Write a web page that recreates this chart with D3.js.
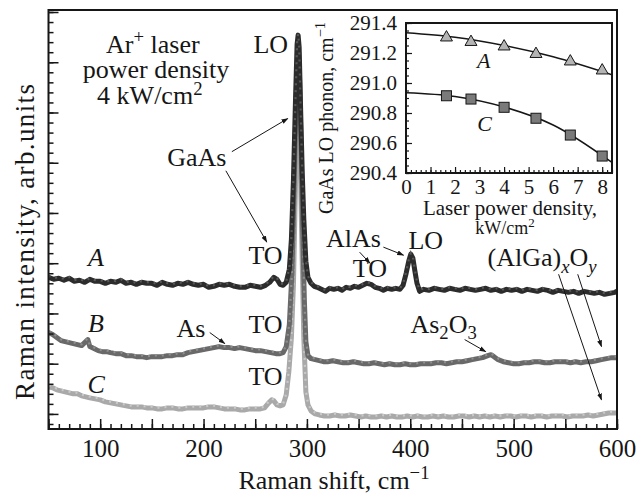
<!DOCTYPE html>
<html>
<head>
<meta charset="utf-8">
<script src="https://cdn.jsdelivr.net/npm/d3@7"></script>
</head>
<body style="margin:0;background:#fff">
<div id="chart"></div>
<script>
// Raman spectra, [shift cm-1, intensity arb.units]
const spectrumA = [[50,136],[55,134],[60,135],[65,133],[70,135],[75,132],[80,133],[85,131],[90,134],[95,132],[100,132],[105,130],[110,132],[115,131],[120,133],[125,130],[130,131],[135,129],[140,131],[145,130],[150,130],[155,128],[160,131],[165,129],[170,128],[175,130],[180,129],[185,131],[190,129],[195,128],[200,129],[205,126],[210,127],[215,129],[220,128],[225,129],[230,127],[235,126],[240,126],[245,128],[250,127],[255,126],[260,128],[264,131],[268,136],[271,134],[274,129],[277,128],[280,131],[283,144],[285,174],[287,234],[289,314],[290.5,368],[291.5,377],[292.5,365],[294,300],[295.5,240],[297,194],[299,152],[301,136],[304,130],[307,127],[310,126],[314,124],[318,122],[322,125],[326,124],[330,125],[334,123],[338,126],[342,125],[346,127],[350,126],[354,128],[358,130],[362,129],[366,126],[370,125],[374,123],[378,125],[382,124],[386,125],[390,124],[393,128],[396,140],[398.5,152],[400.5,159],[402.5,155],[404.5,142],[406.5,130],[409,122],[413,124],[418,123],[423,125],[428,124],[433,123],[438,125],[443,124],[448,123],[453,125],[458,124],[463,123],[468,124],[473,125],[478,123],[483,124],[488,122],[493,124],[498,123],[503,124],[508,122],[513,124],[518,123],[523,122],[528,124],[533,123],[538,121],[543,123],[548,122],[553,121],[558,122],[563,120],[568,122],[573,121],[578,120],[583,121],[588,119],[593,120],[598,121],[600,122]];
const spectrumB = [[50,81],[54,79],[58,76],[62,73],[66,72],[70,71],[74,70],[78,69],[82,68],[86,72],[88,74],[90,67],[94,65],[98,63],[102,62],[106,62],[110,61],[115,60],[120,60],[125,58],[130,58],[135,57],[140,57],[145,56],[150,57],[155,57],[160,57],[165,58],[170,58],[175,59],[180,59],[185,61],[190,62],[195,63],[200,64],[205,65],[210,66],[215,67],[220,66],[225,66],[230,65],[235,66],[240,65],[245,64],[250,63],[255,63],[260,62],[265,61],[270,60],[274,60],[277,61],[280,67],[283,89],[285.5,140],[287.5,220],[289.5,310],[291,356],[292,360],[293,330],[294.5,260],[296,180],[297.5,114],[299,72],[301,58],[304,55],[308,54],[312,53],[316,52],[320,52],[325,53],[330,52],[335,51],[340,51],[345,52],[350,51],[355,50],[360,50],[365,51],[370,50],[375,49],[380,50],[385,49],[390,49],[395,50],[400,49],[405,49],[410,50],[415,50],[420,50],[425,51],[430,51],[435,50],[440,51],[445,52],[450,52],[455,53],[460,54],[465,55],[470,56],[475,58],[478,59],[481,57],[485,54],[490,52],[495,51],[500,50],[505,50],[510,51],[515,51],[520,52],[525,52],[530,51],[535,51],[540,52],[545,52],[550,52],[555,51],[560,52],[565,51],[570,52],[575,52],[580,53],[585,54],[590,55],[595,56],[600,56]];
const spectrumC = [[50,27],[54,26],[58,24],[62,23],[66,22],[70,21],[74,20],[78,20],[82,18],[86,17],[90,16],[95,15],[100,14],[105,12],[110,11],[115,10],[120,9],[125,8],[130,7],[135,7],[140,7],[145,6],[150,6],[155,5],[160,5],[165,6],[170,6],[175,5],[180,5],[185,6],[190,6],[195,6],[200,6],[205,7],[210,7],[215,6],[220,5],[225,5],[230,5],[235,4],[240,4],[245,5],[250,5],[255,5],[259,6],[263,11],[266,14],[268,13],[271,9],[274,8],[277,9],[280,19],[282.5,42],[285,76],[287,130],[289,230],[290.5,320],[291.5,352],[292.5,330],[294,230],[295.5,150],[297,76],[299,22],[301,9],[304,3],[308,0],[312,-1],[317,-2],[322,-2],[327,-1],[332,-2],[337,-2],[342,-1],[347,-2],[352,-3],[357,-2],[362,-3],[367,-3],[372,-2],[377,-3],[382,-2],[387,-3],[392,-3],[397,-2],[402,-3],[407,-2],[412,-3],[417,-3],[422,-2],[427,-3],[432,-2],[437,-3],[442,-3],[447,-2],[452,-2],[457,-3],[462,-2],[467,-3],[472,-2],[477,-3],[482,-2],[487,-3],[492,-2],[497,-2],[502,-3],[507,-2],[512,-2],[517,-3],[522,-2],[527,-2],[532,-3],[537,-2],[542,-2],[547,-2],[552,-3],[557,-2],[562,-2],[567,-2],[572,-1],[577,-2],[582,-1],[587,0],[592,1],[597,1],[600,1]];

// inset: GaAs LO phonon position vs laser power density
const powerA = [1.65, 2.65, 4.0, 5.3, 6.7, 8.0];
const phononA = [291.31, 291.28, 291.25, 291.20, 291.15, 291.09];
const powerC = [1.65, 2.65, 4.0, 5.3, 6.7, 8.0];
const phononC = [290.915, 290.893, 290.838, 290.765, 290.653, 290.513];
const fitPower = [0, 2, 4, 6, 8.4];
const fitA = [291.335, 291.305, 291.25, 291.175, 291.055];
const fitC = [290.935, 290.91, 290.84, 290.72, 290.47];

const xTicksMain = [100, 200, 300, 400, 500, 600];
const xTicksInset = [0, 1, 2, 3, 4, 5, 6, 7, 8];
const yTicksInset = [290.4, 290.6, 290.8, 291.0, 291.2, 291.4];

const FONT = '"Liberation Serif", "Times New Roman", serif';
const INK = "#161616";
const W = 641, H = 497;
const svg = d3.select("#chart").append("svg").attr("width", W).attr("height", H)
  .style("font-family", FONT);

// helper for text with sup/sub parts
function rich(sel, parts, size) {
  let shift = 0;
  parts.forEach(p => {
    const target = p.sup ? -size * 0.38 : p.sub ? size * 0.25 : 0;
    const ts = sel.append("tspan").text(p.t).attr("dy", target - shift);
    shift = target;
    if (p.sup || p.sub) ts.attr("font-size", size * 0.72);
    if (p.it) ts.attr("font-style", "italic");
  });
  return sel;
}

// ---------- main plot ----------
const x = d3.scaleLinear().domain([50, 600]).range([48.5, 617]);
const y = d3.scaleLinear().domain([-15, 402]).range([429, 10]);

const defs = svg.append("defs");
defs.append("marker").attr("id", "arr").attr("viewBox", "0 0 10 10")
  .attr("refX", 9).attr("refY", 5).attr("markerWidth", 7).attr("markerHeight", 7)
  .attr("orient", "auto").attr("markerUnits", "userSpaceOnUse")
  .append("path").attr("d", "M0,1.5L10,5L0,8.5z").attr("fill", INK);
defs.append("clipPath").attr("id", "clipMain").append("rect")
  .attr("x", 48.5).attr("y", 10).attr("width", 568.5).attr("height", 419);

const line = d3.line().x(d => x(d[0])).y(d => y(d[1]));
const series = [
  { data: spectrumC, col: "#a9a9a9", tex: "#c9c9c9" },
  { data: spectrumB, col: "#696969", tex: "#8f8f8f" },
  { data: spectrumA, col: "#2c2c2c", tex: "#575757" }
];
const gLines = svg.append("g").attr("clip-path", "url(#clipMain)");
series.forEach(s => {
  gLines.append("path").datum(s.data).attr("d", line)
    .attr("fill", "none").attr("stroke", s.col).attr("stroke-width", 5)
    .attr("stroke-linejoin", "round");
  gLines.append("path").datum(s.data).attr("d", line)
    .attr("fill", "none").attr("stroke", s.tex).attr("stroke-width", 2.2)
    .attr("stroke-dasharray", "2 5").attr("transform", "translate(0,-1.2)");
});

// axes (ticks point inward)
const gx = svg.append("g").attr("transform", "translate(0,429)");
gx.call(d3.axisBottom(x).tickValues(d3.range(50, 601, 10)).tickSize(-5).tickFormat(""));
gx.append("g").call(d3.axisBottom(x).tickValues(d3.range(50, 601, 50)).tickSize(-10).tickPadding(10)
  .tickFormat(d => xTicksMain.includes(d) ? d : ""));
gx.selectAll("text").attr("font-size", 25);
const gy = svg.append("g").attr("transform", "translate(48.5,0)");
gy.call(d3.axisLeft(y).tickValues(d3.range(-10, 401, 10)).tickSize(-5).tickFormat(""));
gy.append("g").call(d3.axisLeft(y).tickValues(d3.range(0, 401, 50)).tickSize(-10).tickFormat(""));
svg.selectAll(".domain").remove();
svg.selectAll(".tick line").attr("stroke", INK).attr("stroke-width", 1.5);
svg.append("rect").attr("x", 48.5).attr("y", 10).attr("width", 568.5).attr("height", 419)
  .attr("fill", "none").attr("stroke", INK).attr("stroke-width", 2);

// axis titles
rich(svg.append("text").attr("x", 334).attr("y", 489).attr("text-anchor", "middle").attr("font-size", 26),
  [{ t: "Raman shift, cm" }, { t: "\u22121", sup: true }], 26);
svg.append("text").attr("transform", "translate(34,242) rotate(-90)").attr("text-anchor", "middle")
  .attr("font-size", 27).attr("textLength", 316).attr("lengthAdjust", "spacing")
  .text("Raman intensity, arb.units");

// annotations in data coordinates
const T = (sx, sy, opts = {}) => svg.append("text").attr("x", x(sx)).attr("y", y(sy))
  .attr("text-anchor", opts.anchor || "middle").attr("font-size", opts.size || 26);
const arrow = (x1, y1, x2, y2) => svg.append("line")
  .attr("x1", x(x1)).attr("y1", y(y1)).attr("x2", x(x2)).attr("y2", y(y2))
  .attr("stroke", INK).attr("stroke-width", 1).attr("marker-end", "url(#arr)");

rich(T(151, 359), [{ t: "Ar" }, { t: "+", sup: true }, { t: " laser" }], 26);
T(154, 334).text("power density");
rich(T(148, 308), [{ t: "4 kW/cm" }, { t: "2", sup: true }], 26);
T(265, 359).text("LO");
T(193.5, 247).text("GaAs");
arrow(227.4, 261, 281.5, 294);
arrow(221.6, 242, 261.2, 171);
T(260, 149).text("TO");
T(96, 147).attr("font-style", "italic").text("A");
T(345, 166).text("AlAs");
arrow(374, 166, 393.5, 158);
arrow(351, 161, 361, 150);
T(415, 164).text("LO");
T(361, 136).text("TO");
rich(T(474.8, 147, { anchor: "start" }), [{ t: "(AlGa)" }, { t: "x", sub: true, it: true }, { t: "O" }, { t: "y", sub: true, it: true }], 26);
arrow(543.5, 139, 585, 14);
arrow(562, 139, 585, 67);
T(96, 82).attr("font-style", "italic").text("B");
T(187.7, 77).text("As");
arrow(206, 81, 220.6, 70);
T(260, 81).text("TO");
rich(T(432.3, 81), [{ t: "As" }, { t: "2", sub: true }, { t: "O" }, { t: "3", sub: true }], 26);
arrow(452.6, 74, 473, 62);
T(260, 29).text("TO");
T(96, 21).attr("font-style", "italic").text("C");

// ---------- inset ----------
const xi = d3.scaleLinear().domain([0, 8.4]).range([406, 612]);
const yi = d3.scaleLinear().domain([290.4, 291.4]).range([173, 23]);
const gi = svg.append("g");
defs.append("clipPath").attr("id", "clipInset").append("rect")
  .attr("x", 406).attr("y", 23).attr("width", 206).attr("height", 150);

const gxi = gi.append("g").attr("transform", "translate(0,173)");
gxi.call(d3.axisBottom(xi).tickValues(d3.range(0, 8.41, 0.2)).tickSize(-3).tickFormat(""));
gxi.append("g").call(d3.axisBottom(xi).tickValues(xTicksInset).tickSize(-6).tickPadding(6).tickFormat(d3.format("d")));
const gyi = gi.append("g").attr("transform", "translate(406,0)");
gyi.call(d3.axisLeft(yi).tickValues(d3.range(290.4, 291.401, 0.05)).tickSize(-3).tickFormat(""));
gyi.append("g").call(d3.axisLeft(yi).tickValues(yTicksInset).tickSize(-6).tickPadding(9).tickFormat(d3.format(".1f")));
gi.selectAll(".domain").remove();
gi.selectAll(".tick line").attr("stroke", INK).attr("stroke-width", 1.2);
gi.selectAll("text").attr("font-size", 21);
gi.append("rect").attr("x", 406).attr("y", 23).attr("width", 206).attr("height", 150)
  .attr("fill", "none").attr("stroke", INK).attr("stroke-width", 2);

const fitLine = d3.line().x((d, i) => xi(fitPower[i])).y(d => yi(d)).curve(d3.curveMonotoneX);
gi.append("g").attr("clip-path", "url(#clipInset)").selectAll("path").data([fitA, fitC]).join("path")
  .attr("d", fitLine).attr("fill", "none").attr("stroke", INK).attr("stroke-width", 1.5);

const tri = d3.symbol().type(d3.symbolTriangle).size(62);
gi.selectAll(".triA").data(powerA).join("path").attr("class", "triA")
  .attr("d", tri).attr("transform", (d, i) => `translate(${xi(d)},${yi(phononA[i]) + 1})`)
  .attr("fill", "#b4b4b4").attr("stroke", INK).attr("stroke-width", 1);
gi.selectAll(".sqC").data(powerC).join("rect").attr("class", "sqC")
  .attr("x", d => xi(d) - 5).attr("y", (d, i) => yi(phononC[i]) - 5).attr("width", 10).attr("height", 10)
  .attr("fill", "#7a7a7a").attr("stroke", INK).attr("stroke-width", 1);

gi.append("text").attr("x", xi(3.17)).attr("y", yi(291.1)).attr("text-anchor", "middle")
  .attr("font-size", 22).attr("font-style", "italic").text("A");
gi.append("text").attr("x", xi(3.2)).attr("y", yi(290.68)).attr("text-anchor", "middle")
  .attr("font-size", 22).attr("font-style", "italic").text("C");

rich(gi.append("text").attr("transform", "translate(333,118) rotate(-90)").attr("text-anchor", "middle").attr("font-size", 20),
  [{ t: "GaAs LO phonon, cm" }, { t: "\u22121", sup: true }], 20);
gi.append("text").attr("x", 510).attr("y", 215).attr("text-anchor", "middle").attr("font-size", 21)
  .text("Laser power density,");
rich(gi.append("text").attr("x", 505).attr("y", 234).attr("text-anchor", "middle").attr("font-size", 18),
  [{ t: "kW/cm" }, { t: "2", sup: true }], 18);

svg.selectAll("text").style("font-family", FONT).attr("fill", INK);
</script>
</body>
</html>
